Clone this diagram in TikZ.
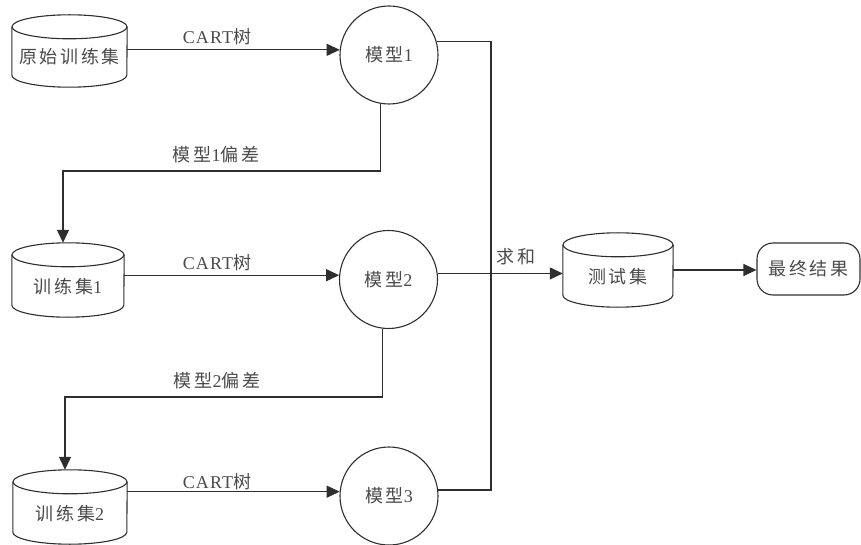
\documentclass[tikz,border=0pt]{standalone}
\usepackage{fontspec}
\setmainfont[LetterSpace=6]{Liberation Serif}
\newfontfamily\cjk[LetterSpace=15]{Noto Sans CJK SC}
\usetikzlibrary{arrows.meta,calc}
\definecolor{ln}{HTML}{2E2E2E}
\definecolor{tx}{HTML}{4A4A4A}
\newcommand{\zh}[1]{{\cjk #1}}
\begin{document}
\begin{tikzpicture}[x=1pt,y=-1pt,
 line/.style={draw=ln, line width=1.1pt},
 arr/.style={line, -{Triangle[length=13pt,width=12pt]}},
 lbl/.style={text=tx, font=\fontsize{18}{21}\selectfont, inner sep=0pt},
 circ/.style={circle, draw=ln, line width=1.1pt, minimum size=98pt, inner sep=0pt, lbl},
 db/.style={rectangle, inner sep=0pt, lbl},
 term/.style={rectangle, rounded corners=16pt, draw=ln, line width=1.1pt, minimum width=103pt, minimum height=52pt, lbl}]
\useasboundingbox (0,0) rectangle (861,545);

% data stores
\node[db, minimum width=115pt, minimum height=72pt, label={[lbl,yshift=-6pt]center:\zh{原始训练集}}] (d0) at (69.5,51) {};
\node[db, minimum width=112pt, minimum height=74pt, label={[lbl,yshift=-7pt]center:\zh{训练集}1}] (d1) at (68,280) {};
\node[db, minimum width=114pt, minimum height=74pt, label={[lbl,yshift=-7pt]center:\zh{训练集}2}] (d2) at (70,507) {};
\node[db, minimum width=110pt, minimum height=74pt, label={[lbl,yshift=-7pt]center:\zh{测试集}}] (t) at (618,270) {};
\foreach \c/\r in {d0/57.5, d1/56, d2/57, t/55}{
  \draw[line] ([yshift=-12pt]\c.north west) -- ([yshift=12pt]\c.south west)
    arc[start angle=180, end angle=360, x radius=\r pt, y radius=12pt]
    -- ([yshift=-12pt]\c.north east);
  \draw[line] ([yshift=-12pt]\c.north) ellipse [x radius=\r pt, y radius=12pt];
}

% models
\node[circ] (m1) at (389,55) {\zh{模型}1};
\node[circ] (m2) at (388.5,279.5) {\zh{模型}2};
\node[circ] (m3) at (389,496) {\zh{模型}3};

% result
\node[term] (r) at (808.5,269) {\zh{最终结果}};

% training arrows
\draw[arr] (d0.east |- m1.174) -- (m1.174);
\draw[arr] (d1.east |- m2.175) -- (m2.175);
\draw[arr] (d2.east |- m3.175) -- (m3.175);
\node[lbl] (c0) at (217,37) {CART\zh{树}};
\node[lbl] (c1) at (217,263) {CART\zh{树}};
\node[lbl] (c2) at (217,482) {CART\zh{树}};

% residual feedback
\coordinate (k1) at (63,171);
\coordinate (k2) at (65,397);
\draw[arr] (m1.260) |- (k1) -- (k1 |- d1.north);
\draw[arr] (m2.263) |- (k2) -- (k2 |- d2.north);
\node[lbl] (e1) at (216,155) {\zh{模型}1\zh{偏差}};
\node[lbl] (e2) at (217,381) {\zh{模型}2\zh{偏差}};

% sum bus
\coordinate (bt) at (491,41);
\draw[line] (m1.16) -- (m1.16 -| bt) -- (m3.7 -| bt) -- (m3.7);
\draw[arr] (m2.7) -- (m2.7 -| t.west);
\node[lbl] (s) at (516,257) {\zh{求和}};
\draw[arr] (t.east) -- (t.east -| r.west);
\end{tikzpicture}
\end{document}
